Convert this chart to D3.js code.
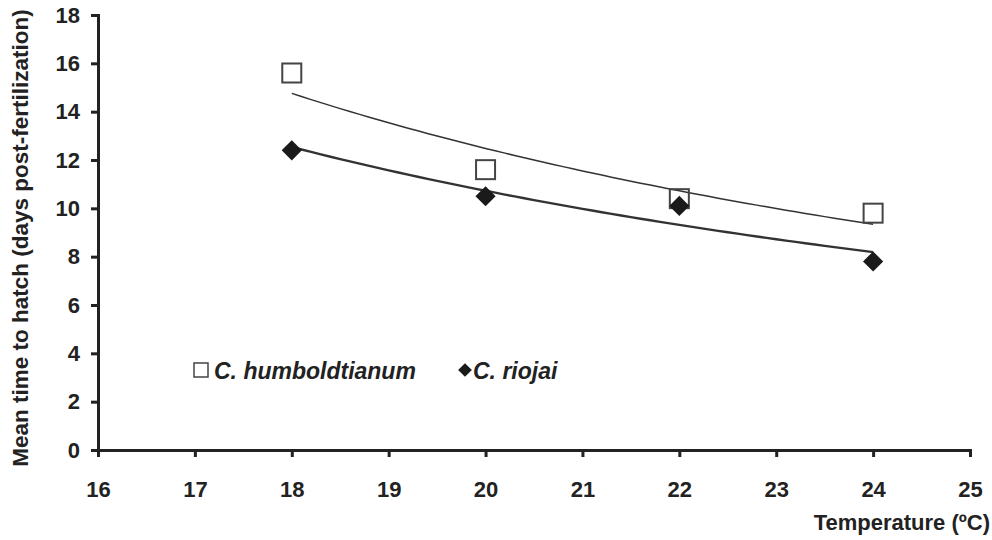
<!DOCTYPE html>
<html>
<head>
<meta charset="utf-8">
<script src="https://cdn.jsdelivr.net/npm/d3@7"></script>
<style>
  body { margin: 0; background: #fff; }
  text { font-family: "Liberation Sans", Arial, sans-serif; font-weight: bold; fill: #222; }
</style>
</head>
<body>
<div id="vis"></div>
<script>
// ==== DATA ====
const temps = [18, 20, 22, 24];
const humboldtianum = [15.6, 11.6, 10.4, 9.8];
const riojai = [12.4, 10.5, 10.1, 7.8];
const xTicks = [16, 17, 18, 19, 20, 21, 22, 23, 24, 25];
const yTicks = [0, 2, 4, 6, 8, 10, 12, 14, 16, 18];

const width = 992, height = 540;
const svg = d3.select("#vis").append("svg")
  .attr("width", width).attr("height", height);

const x = d3.scaleLinear().domain([16, 25]).range([98, 970]);
const y = d3.scaleLinear().domain([0, 18]).range([450, 15]);

// power trendline (least squares in log-log space, like Excel)
function powerFit(xs, ys) {
  const lx = xs.map(Math.log), ly = ys.map(Math.log);
  const mx = d3.mean(lx), my = d3.mean(ly);
  const b = d3.sum(lx, (v, i) => (v - mx) * (ly[i] - my)) / d3.sum(lx, v => (v - mx) ** 2);
  const a = Math.exp(my - b * mx);
  return t => a * Math.pow(t, b);
}

function drawTrend(vals, sw) {
  const f = powerFit(temps, vals);
  const pts = d3.range(0, 61).map(i => 18 + i * 0.1);
  svg.append("path")
    .datum(pts)
    .attr("fill", "none")
    .attr("stroke", "#333")
    .attr("stroke-width", sw)
    .attr("d", d3.line().x(d => x(d)).y(d => y(f(d))));
}

drawTrend(humboldtianum, 1.5);
drawTrend(riojai, 2.4);

// ==== AXES ====
const yAxis = svg.append("g")
  .attr("transform", `translate(${x(16)},0)`)
  .call(d3.axisLeft(y).tickValues(yTicks).tickSize(7).tickPadding(11));
const xAxis = svg.append("g")
  .attr("transform", `translate(0,${y(0)})`)
  .call(d3.axisBottom(x).tickValues(xTicks).tickSize(7).tickPadding(24));

[yAxis, xAxis].forEach(g => {
  g.select(".domain").attr("stroke", "#222").attr("stroke-width", 3);
  g.selectAll(".tick line").attr("stroke", "#222").attr("stroke-width", 3);
  g.selectAll(".tick text").style("font-size", "22px")
    .style("font-family", "'Liberation Sans', Arial, sans-serif")
    .style("font-weight", "bold").attr("fill", "#222");
});

// ==== MARKERS ====
const sq = 19;
svg.selectAll("rect.h")
  .data(temps.map((t, i) => [t, humboldtianum[i]]))
  .enter().append("rect")
  .attr("x", d => x(d[0]) - sq / 2)
  .attr("y", d => y(d[1]) - sq / 2)
  .attr("width", sq).attr("height", sq)
  .attr("fill", "none")
  .attr("stroke", "#444").attr("stroke-width", 2);

const diamond = d3.symbol().type(d3.symbolDiamond2).size(260);
svg.selectAll("path.r")
  .data(temps.map((t, i) => [t, riojai[i]]))
  .enter().append("path")
  .attr("d", diamond)
  .attr("transform", d => `translate(${x(d[0])},${y(d[1])})`)
  .attr("fill", "#1a1a1a");

// ==== LEGEND ====
svg.append("rect")
  .attr("x", 194).attr("y", 363).attr("width", 14).attr("height", 14)
  .attr("fill", "none").attr("stroke", "#444").attr("stroke-width", 1.5);
svg.append("text")
  .attr("x", 214).attr("y", 379)
  .style("font-size", "23px").style("font-style", "italic")
  .text("C. humboldtianum");
svg.append("path")
  .attr("d", d3.symbol().type(d3.symbolDiamond2).size(120))
  .attr("transform", "translate(465,370)")
  .attr("fill", "#1a1a1a");
svg.append("text")
  .attr("x", 473).attr("y", 379)
  .style("font-size", "23px").style("font-style", "italic")
  .text("C. riojai");

// ==== TITLES ====
svg.append("text")
  .attr("transform", "translate(28,238) rotate(-90)")
  .attr("text-anchor", "middle")
  .style("font-size", "22.5px")
  .text("Mean time to hatch (days post-fertilization)");
svg.append("text")
  .attr("x", 990).attr("y", 530)
  .attr("text-anchor", "end")
  .style("font-size", "22px")
  .text("Temperature (ºC)");
</script>
</body>
</html>
